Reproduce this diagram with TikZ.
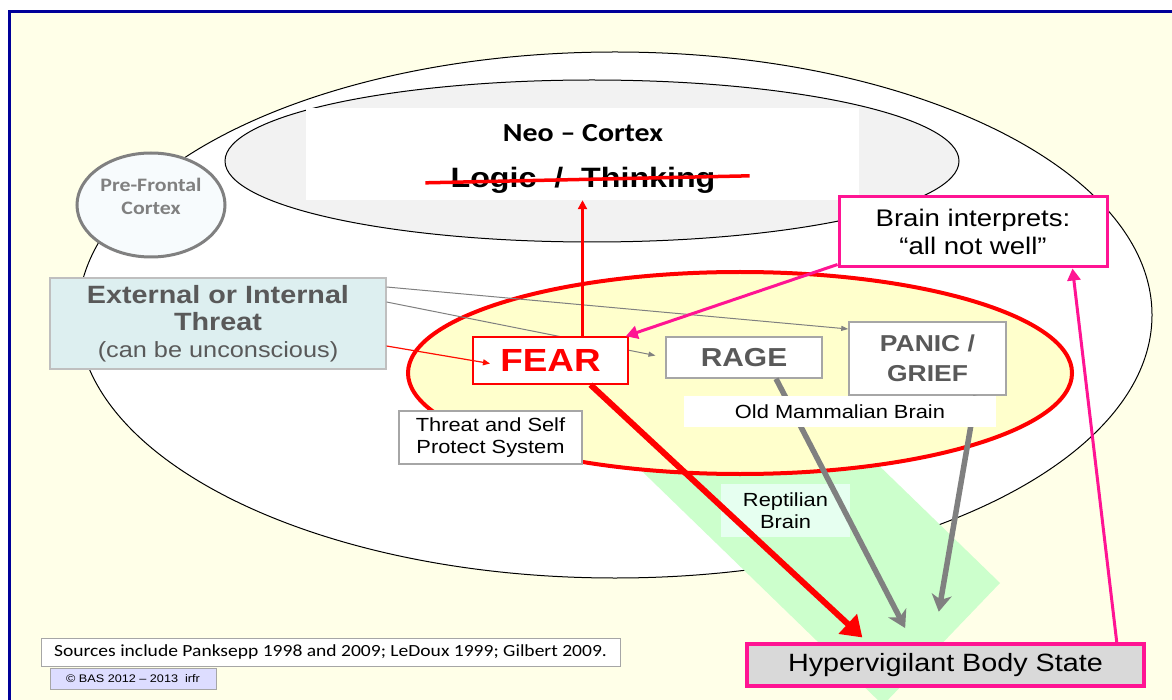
\documentclass[tikz,border=0pt]{standalone}
\usepackage{fontspec}
\setmainfont{Liberation Sans}[FakeStretch=1.15]
\newfontfamily\calfont{Carlito}[FakeStretch=1.15]
\usetikzlibrary{arrows.meta}

\definecolor{framblue}{HTML}{000099}
\definecolor{ivory}{HTML}{FFFFE8}
\definecolor{neogrey}{HTML}{F2F2F2}
\definecolor{pfedge}{HTML}{808080}
\definecolor{pffill}{HTML}{F7FBFD}
\definecolor{bandgreen}{HTML}{CCFFCC}
\definecolor{yellowfill}{HTML}{FFFFCC}
\definecolor{fearred}{HTML}{FF0000}
\definecolor{extfill}{HTML}{DDEFF0}
\definecolor{extedge}{HTML}{BFBFBF}
\definecolor{boxgrey}{HTML}{A6A6A6}
\definecolor{txtgrey}{HTML}{595959}
\definecolor{arrgrey}{HTML}{808080}
\definecolor{reptfill}{HTML}{E6FFF0}
\definecolor{hyperfill}{HTML}{D9D9D9}
\definecolor{hotpink}{HTML}{FF1493}
\definecolor{lavender}{HTML}{DDDDFF}

\newcommand{\fsz}[2]{\fontsize{#1}{#2}\selectfont}

\begin{document}
\begin{tikzpicture}[x=1pt,y=-1pt,
    box/.style={draw,rectangle,inner sep=0pt,align=center},
    greybox/.style={box,draw=boxgrey,line width=1.5pt,fill=white,text=txtgrey},
    tag/.style={rectangle,inner sep=0pt,align=center,font=\fsz{19}{22}},
    pinkarrow/.style={draw=hotpink,line width=3pt,-{Triangle[length=12pt,width=13pt]}},
    greyarrow/.style={draw=arrgrey,line width=5.5pt,-{Stealth[length=17pt,width=20pt,inset=5pt]}},
    thinarrow/.style={draw=arrgrey,line width=1pt,-{Triangle[length=7pt,width=5pt]}}]
    % frame
    \clip (0,0) rectangle (1172,700);
    \fill[white] (0,0) rectangle (1172,700);
    \draw[framblue,line width=3pt,fill=ivory] (9.5,11.5) rectangle (1200,720);

    % whole brain and neo-cortex
    \draw[line width=1pt,fill=white] (615,315) ellipse [x radius=537,y radius=263];
    \draw[line width=1pt,fill=neogrey] (592,161) ellipse [x radius=367,y radius=81];
    \node[fill=white,inner sep=0pt,minimum width=553pt,minimum height=92pt] (neo) at (582.5,154) {};
    \node[font=\calfont\bfseries\fsz{26}{30}] (neotitle) at (583,133) {Neo – Cortex};
    \node[anchor=base,inner sep=0pt,font=\bfseries\fsz{28}{32}] (logic) at (583,188) {Logic\ \ /\ \ Thinking};
    \draw[fearred,line width=3.5pt] ([shift={(-25,2)}]logic.west) -- ([shift={(34,-5)}]logic.east);

    % pre-frontal
    \draw[pfedge,line width=3pt,fill=pffill] (151,205) ellipse [x radius=74,y radius=52];
    \node[font=\calfont\bfseries\fsz{19}{23},text=pfedge,align=center] (pfc) at (151,196) {Pre-Frontal\\Cortex};

    % reptilian band and old mammalian brain
    \fill[bandgreen] (700,292) -- (1000,583) -- (883,705) -- (583,414) -- cycle;
    \draw[fearred,line width=4pt,fill=yellowfill] (740,373) ellipse [x radius=332,y radius=101];

    % boxes
    \node[box,draw=extedge,line width=1.2pt,fill=extfill,text=txtgrey,font=\fsz{25}{27}\bfseries,minimum width=336pt,minimum height=91pt]
        (ext) at (218,323.5) {External or Internal\\Threat\\\mdseries\fsz{22}{27}(can be unconscious)};
    \node[greybox,font=\bfseries\fsz{26}{30},minimum width=156pt,minimum height=41pt] (rage) at (744,357.5) {RAGE};
    \node[greybox,font=\bfseries\fsz{23}{30},minimum width=157pt,minimum height=73pt] (panic) at (927.5,358.5) {PANIC /\\GRIEF};
    \node[box,draw=hotpink,line width=3.5pt,fill=hyperfill,font=\fsz{25}{30},minimum width=397pt,minimum height=42pt] (hyper) at (945.5,665) {Hypervigilant Body State};

    % threat paths
    \draw[thinarrow,shorten >=10pt] ([yshift=21.5pt]ext.east) -- (rage.west);
    \draw[thinarrow] ([yshift=36.5pt]ext.east) -- ([yshift=29.5pt]panic.west);
    \node[box,draw=fearred,line width=1.5pt,fill=white,text=fearred,font=\bfseries\fsz{32}{36},minimum width=155pt,minimum height=47pt] (fear) at (550.5,360.5) {FEAR};
    \node[box,draw=boxgrey,line width=1.2pt,fill=white,font=\fsz{19}{22},minimum width=183pt,minimum height=53pt] (threat) at (490.5,437.5) {Threat and Self\\Protect System};
    \node[tag,fill=reptfill,minimum width=129pt,minimum height=53pt] (rept) at (785.5,510.5) {Reptilian\\Brain};

    \draw[greyarrow,shorten >=16pt] ([xshift=32pt]rage.south) -- ([xshift=-33pt]hyper.north);
    \draw[greyarrow,shorten >=31pt] ([xshift=48.5pt]panic.south) -- ([xshift=-12pt]hyper.north);
    \node[tag,fill=white,minimum width=312pt,minimum height=31pt] (oldmam) at (840,411.5) {Old Mammalian Brain};

    % fear responses
    \draw[fearred,line width=3pt,-{Triangle[length=9pt,width=9pt]}] ([xshift=32pt]fear.north) -- ([xshift=32pt]fear.north |- neo.south);
    \draw[red!90!orange,line width=1.2pt,-{Triangle[length=7pt,width=6pt]},shorten >=-18pt] ([yshift=-22.5pt]ext.east) -- (fear.west);
    \draw[fearred,line width=6pt,-{Triangle[length=20pt,width=26pt]},shorten >=7pt] ([xshift=40pt]fear.south) -- ([xshift=-78pt]hyper.north);

    % interpretation loop
    \node[box,draw=hotpink,line width=3pt,fill=white,font=\fsz{24}{28},minimum width=268pt,minimum height=70pt] (brain) at (973,232) {Brain interprets:\\“all not well”};
    \draw[pinkarrow] ([yshift=4pt]brain.south west) -- ([xshift=-3pt]fear.north east);
    \draw[pinkarrow] ([xshift=-29pt]hyper.north east) -- ([xshift=-36pt]brain.south east);

    % sources
    \node[box,draw=boxgrey,line width=1pt,fill=white,font=\calfont\fsz{17}{20},minimum width=579pt,minimum height=28pt] (src) at (330.5,652) {Sources include Panksepp 1998 and 2009; LeDoux 1999; Gilbert 2009.};
    \node[box,draw=boxgrey,line width=1pt,fill=lavender,font=\fsz{11}{13},minimum width=166pt,minimum height=21pt] (copy) at (133,678.5) {© BAS 2012 – 2013\ \ irfr};
\end{tikzpicture}
\end{document}
